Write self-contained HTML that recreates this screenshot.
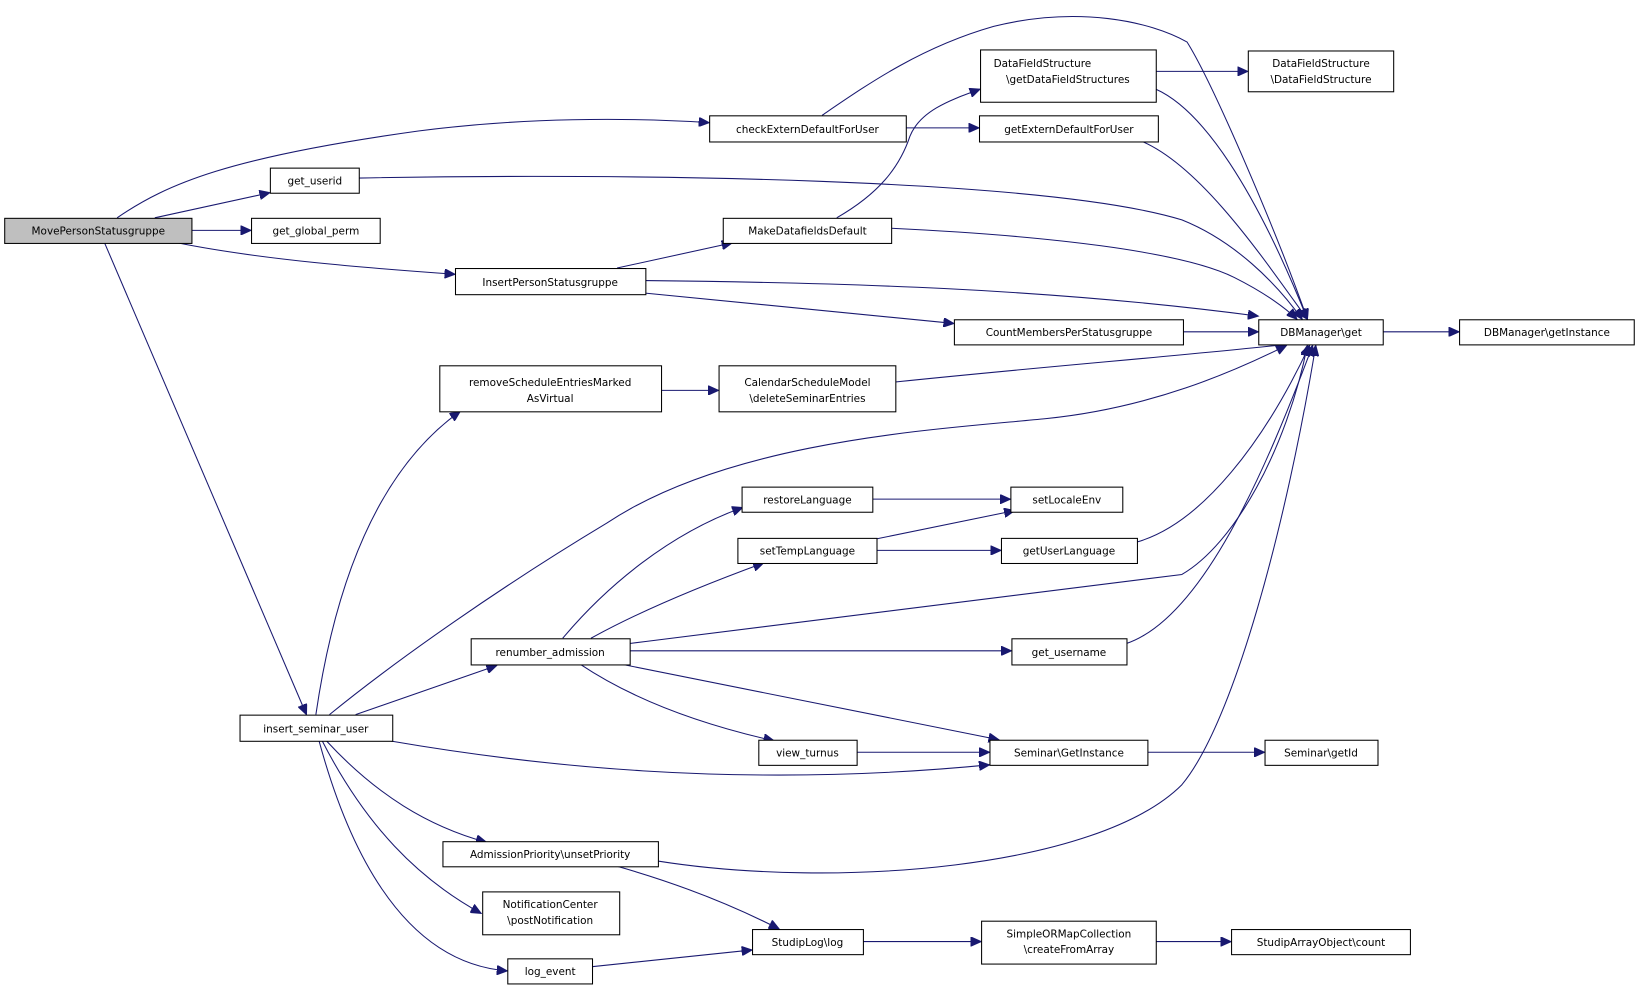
<!DOCTYPE html>
<html><head><meta charset="utf-8"><style>
html,body{margin:0;padding:0;background:#fff;}
svg{display:block}
text{font-family:"DejaVu Sans","Liberation Sans",sans-serif;font-size:10px;fill:#000;text-anchor:middle}
.e{fill:none;stroke:#191970;stroke-width:1;marker-end:url(#a)}
.n{fill:#fff;stroke:#000;stroke-width:1}
</style></head><body>
<svg width="1640" height="991" viewBox="0 0 1568 947" xmlns="http://www.w3.org/2000/svg">
<defs><marker id="a" markerUnits="userSpaceOnUse" markerWidth="11" markerHeight="9" refX="10" refY="4.5" orient="auto"><path d="M0,0 L10,4.5 L0,9 z" fill="#191970" stroke="#191970"/></marker></defs>
<g>
<path class="e" d="M112,208 C160,175 220,150 400,125 C500,112 600,112 678,117"/>
<path class="e" d="M148,208 L258,184"/>
<path class="e" d="M183,220 L240,220"/>
<path class="e" d="M170,232 C250,248 350,256 435,262"/>
<path class="e" d="M100,232 L293,683"/>
<path class="e" d="M786,110 C830,80 880,45 950,25 C1030,5 1100,20 1135,40 C1160,80 1220,220 1250,305"/>
<path class="e" d="M866,122 L936,122"/>
<path class="e" d="M343,170 C600,165 1000,170 1130,210 C1180,230 1220,270 1245,305"/>
<path class="e" d="M590,256 L700,232"/>
<path class="e" d="M617,268 C800,270 1000,275 1203,302"/>
<path class="e" d="M617,280 L912,309"/>
<path class="e" d="M800,208 C840,185 860,160 870,130 C880,105 910,95 937,85"/>
<path class="e" d="M852,218 C1000,225 1130,240 1180,265 C1210,280 1230,295 1240,305"/>
<path class="e" d="M1105,68 L1193,68"/>
<path class="e" d="M1105,85 C1150,105 1200,180 1250,305"/>
<path class="e" d="M1092,135 C1150,160 1210,250 1250,305"/>
<path class="e" d="M1131,317 L1203,317"/>
<path class="e" d="M1322,317 L1395,317"/>
<path class="e" d="M632,373 L687,373"/>
<path class="e" d="M856,365 C1000,350 1130,340 1230,329"/>
<path class="e" d="M302,683 C320,560 360,450 440,393"/>
<path class="e" d="M315,683 C380,630 480,560 580,500 C700,420 900,410 1000,400 C1100,390 1180,355 1230,330"/>
<path class="e" d="M340,683 L475,636"/>
<path class="e" d="M372,708 C500,730 700,755 946,731"/>
<path class="e" d="M312,708 C360,760 410,790 465,805"/>
<path class="e" d="M308,708 C350,790 400,840 460,873"/>
<path class="e" d="M305,708 C330,800 380,920 485,928"/>
<path class="e" d="M538,610 C580,560 640,510 710,485"/>
<path class="e" d="M565,610 C610,585 670,560 730,538"/>
<path class="e" d="M602,615 C800,590 1000,565 1130,549 C1180,520 1230,430 1250,330"/>
<path class="e" d="M602,622 L967,622"/>
<path class="e" d="M555,635 C600,665 660,690 740,708"/>
<path class="e" d="M595,635 L955,707"/>
<path class="e" d="M834,477 L966,477"/>
<path class="e" d="M838,515 L970,488"/>
<path class="e" d="M838,526 L957,526"/>
<path class="e" d="M1087,518 C1150,500 1210,420 1252,330"/>
<path class="e" d="M1077,615 C1150,590 1210,450 1255,330"/>
<path class="e" d="M819,719 L946,719"/>
<path class="e" d="M1097,719 L1209,719"/>
<path class="e" d="M629,823 C800,850 1050,830 1130,750 C1180,690 1230,500 1258,330"/>
<path class="e" d="M590,828 C650,845 700,865 745,888"/>
<path class="e" d="M566,924 L719,908"/>
<path class="e" d="M825,900 L938,900"/>
<path class="e" d="M1105,900 L1177,900"/>
</g>
<g>
<rect x="4.5" y="208.5" width="179" height="24" fill="#bfbfbf" stroke="#000"/><text x="94" y="224">MovePersonStatusgruppe</text>
<rect class="n" x="258.5" y="160.5" width="85" height="24"/><text x="301" y="176">get_userid</text>
<rect class="n" x="240.5" y="208.5" width="123" height="24"/><text x="302" y="224">get_global_perm</text>
<rect class="n" x="678.5" y="110.5" width="188" height="25"/><text x="772" y="127">checkExternDefaultForUser</text>
<rect class="n" x="435.5" y="256.5" width="182" height="25"/><text x="526" y="273">InsertPersonStatusgruppe</text>
<rect class="n" x="229.5" y="683.5" width="146" height="25"/><text x="302" y="700">insert_seminar_user</text>
<rect class="n" x="937.5" y="47.5" width="168" height="50"/><text x="1021" y="64" style="text-anchor:start" transform="translate(-71,0)">DataFieldStructure</text><text x="1021" y="79">\getDataFieldStructures</text>
<rect class="n" x="1193.5" y="48.5" width="139" height="39"/><text x="1263" y="64">DataFieldStructure</text><text x="1263" y="79">\DataFieldStructure</text>
<rect class="n" x="936.5" y="110.5" width="171" height="25"/><text x="1022" y="127">getExternDefaultForUser</text>
<rect class="n" x="691.5" y="208.5" width="161" height="24"/><text x="772" y="224">MakeDatafieldsDefault</text>
<rect class="n" x="912.5" y="305.5" width="219" height="24"/><text x="1022" y="321">CountMembersPerStatusgruppe</text>
<rect class="n" x="1203.5" y="305.5" width="119" height="24"/><text x="1263" y="321">DBManager\get</text>
<rect class="n" x="1395.5" y="305.5" width="167" height="24"/><text x="1479" y="321">DBManager\getInstance</text>
<rect class="n" x="420.5" y="349.5" width="212" height="44"/><text x="526" y="369">removeScheduleEntriesMarked</text><text x="526" y="384">AsVirtual</text>
<rect class="n" x="687.5" y="349.5" width="169" height="44"/><text x="772" y="369">CalendarScheduleModel</text><text x="772" y="384">\deleteSeminarEntries</text>
<rect class="n" x="709.5" y="465.5" width="125" height="24"/><text x="772" y="481">restoreLanguage</text>
<rect class="n" x="966.5" y="465.5" width="107" height="24"/><text x="1020" y="481">setLocaleEnv</text>
<rect class="n" x="705.5" y="514.5" width="133" height="24"/><text x="772" y="530">setTempLanguage</text>
<rect class="n" x="957.5" y="514.5" width="130" height="24"/><text x="1022" y="530">getUserLanguage</text>
<rect class="n" x="450.5" y="610.5" width="152" height="25"/><text x="526" y="627">renumber_admission</text>
<rect class="n" x="967.5" y="610.5" width="110" height="25"/><text x="1022" y="627">get_username</text>
<rect class="n" x="725.5" y="707.5" width="94" height="24"/><text x="772" y="723">view_turnus</text>
<rect class="n" x="946.5" y="707.5" width="151" height="24"/><text x="1022" y="723">Seminar\GetInstance</text>
<rect class="n" x="1209.5" y="707.5" width="108" height="24"/><text x="1263" y="723">Seminar\getId</text>
<rect class="n" x="423.5" y="804.5" width="206" height="24"/><text x="526" y="820">AdmissionPriority\unsetPriority</text>
<rect class="n" x="461.5" y="852.5" width="131" height="41"/><text x="526" y="868">NotificationCenter</text><text x="526" y="883">\postNotification</text>
<rect class="n" x="719.5" y="888.5" width="106" height="24"/><text x="772" y="904">StudipLog\log</text>
<rect class="n" x="485.5" y="916.5" width="81" height="24"/><text x="526" y="932">log_event</text>
<rect class="n" x="938.5" y="880.5" width="167" height="41"/><text x="1022" y="896">SimpleORMapCollection</text><text x="1022" y="911">\createFromArray</text>
<rect class="n" x="1177.5" y="888.5" width="171" height="24"/><text x="1263" y="904">StudipArrayObject\count</text>
</g>
</svg>
</body></html>
